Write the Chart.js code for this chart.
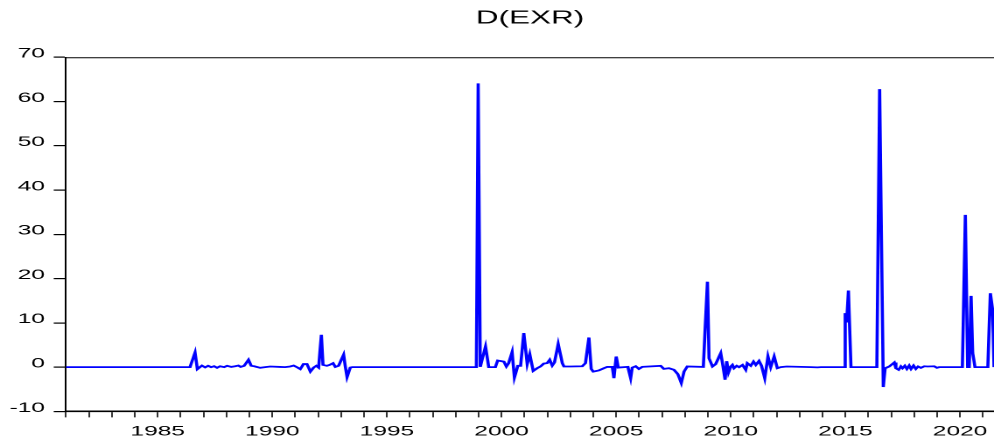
<!DOCTYPE html>
<html><head><meta charset="utf-8">
<script src="https://cdn.jsdelivr.net/npm/chart.js@4/dist/chart.umd.min.js"></script>
<style>html,body{margin:0;padding:0;background:#fff;overflow:hidden}</style>
</head><body>
<canvas id="c" width="568" height="441" style="display:block;width:994px;height:441px"></canvas>
<script>
const chartTitle = 'D(EXR)';
const obsDates = [
1981.00,1986.41,1986.63,1986.73,1986.93,1987.07,1987.20,1987.33,1987.46,1987.59,1987.72,1987.90,
1988.03,1988.21,1988.38,1988.52,1988.62,1988.77,1988.96,1989.08,1989.21,1989.47,1989.69,1989.91,
1990.34,1990.56,1990.78,1990.93,1991.09,1991.22,1991.36,1991.51,1991.66,1991.80,1991.92,1992.02,
1992.14,1992.21,1992.38,1992.50,1992.65,1992.75,1992.89,1993.11,1993.18,1993.26,1993.40,1993.49,
1998.90,1998.98,1999.07,1999.30,1999.44,1999.73,1999.83,2000.10,2000.21,2000.31,2000.46,2000.56,
2000.71,2000.83,2000.97,2001.12,2001.23,2001.38,2001.55,2001.70,2001.84,2001.99,2002.10,2002.21,
2002.31,2002.47,2002.65,2002.72,2003.01,2003.52,2003.66,2003.81,2003.91,2004.00,2004.24,2004.46,
2004.61,2004.83,2004.90,2005.00,2005.09,2005.51,2005.63,2005.70,2005.85,2005.99,2006.14,2006.94,
2007.08,2007.30,2007.52,2007.69,2007.84,2007.96,2008.10,2008.80,2008.98,2009.05,2009.20,2009.34,
2009.56,2009.66,2009.75,2009.82,2009.90,2010.00,2010.07,2010.14,2010.26,2010.36,2010.51,2010.65,
2010.72,2010.87,2010.99,2011.09,2011.23,2011.34,2011.48,2011.62,2011.74,2011.89,2012.03,2012.18,
2012.44,2013.49,2013.78,2013.93,2014.92,2014.99,2015.05,2015.13,2015.24,2016.37,2016.49,2016.65,
2016.73,2016.91,2017.13,2017.20,2017.32,2017.42,2017.49,2017.59,2017.68,2017.78,2017.86,2017.97,
2018.07,2018.17,2018.29,2018.44,2018.58,2018.87,2018.99,2019.09,2020.10,2020.23,2020.33,2020.40,
2020.48,2020.55,2020.65,2021.21,2021.32,2021.42,2021.48
];
const dExr = [
0,0,3.3,-0.45,0.35,-0.05,0.3,0,0.2,-0.15,0.2,0,
0.3,0.05,0.2,0.35,0.05,0.3,1.65,0.3,0.2,-0.15,0,0.15,
0.05,0,0.15,0.35,-0.05,-0.45,0.7,0.7,-1.0,-0.1,0.3,-0.1,
7.3,0.5,0.3,0.5,0.9,0.05,0.3,2.8,0.3,-2.25,-0.1,0,
0,64.1,0.05,4.65,0,0,1.5,1.25,0.15,0.9,3.4,-2.35,
0.3,0.3,7.7,0.7,2.9,-0.85,-0.25,0.15,0.8,0.9,1.65,0.35,
1.1,5.2,0.9,0.15,0.15,0.2,0.9,6.7,-0.4,-1.0,-0.75,-0.25,
0.05,0.05,-2.5,2.4,-0.1,0.05,-2.5,-0.1,0.2,-0.4,0.05,0.3,
-0.4,-0.25,-0.6,-1.6,-3.6,-1.0,0.15,0.05,19.3,2.0,0.15,0.7,
3.15,0.15,-2.85,1.35,-1.2,0.15,0.5,-0.25,0.3,0,0.5,-0.6,
0.9,0.3,1.25,0.5,1.4,0.3,-2.5,2.4,0,2.4,-0.25,0,
0.15,0,-0.05,0,0,12.2,10.1,17.3,0,0,62.8,-4.5,
-0.25,0.15,1.05,-0.25,-0.6,0.15,-0.25,0.3,-0.4,0.35,-0.4,0.35,
-0.4,0.15,-0.15,0.2,0.15,0.2,-0.15,0,0,34.4,0,0,
16.1,3.2,0,0,16.7,12.9,0
];
const yearLabels = [1985,1990,1995,2000,2005,2010,2015,2020];
const xRange = [1981, 2021.48];
const yRange = [-10, 70];
const yStep = 10;

const FONT = 'Liberation Sans, Arial, sans-serif';

const topFrame = {
  id: 'topFrame',
  afterDraw(chart) {
    const {ctx, chartArea: a} = chart;
    ctx.save();
    ctx.strokeStyle = '#000';
    ctx.lineWidth = 1;
    ctx.beginPath();
    ctx.moveTo(a.left, a.top + 0.5);
    ctx.lineTo(a.right, a.top + 0.5);
    ctx.stroke();
    ctx.restore();
  }
};

new Chart(document.getElementById('c'), {
  type: 'line',
  data: {
    datasets: [{
      data: obsDates.map((d, i) => ({x: d, y: dExr[i]})),
      borderColor: '#0000ff',
      borderWidth: 1.8,
      pointRadius: 0,
      tension: 0,
      fill: false
    }]
  },
  options: {
    responsive: false,
    devicePixelRatio: 2,
    animation: false,
    layout: {padding: 0},
    plugins: {
      legend: {display: false},
      tooltip: {enabled: false},
      title: {
        display: true,
        fullSize: false,
        text: chartTitle,
        color: '#000',
        font: {family: FONT, size: 18, weight: 'normal'},
        padding: {top: 7.5, bottom: 28.2}
      }
    },
    scales: {
      x: {
        type: 'linear',
        min: xRange[0],
        max: xRange[1],
        ticks: {
          stepSize: 1,
          maxTicksLimit: 200,
          autoSkip: false,
          includeBounds: false,
          maxRotation: 0,
          minRotation: 0,
          color: '#000',
          font: {family: FONT, size: 14},
          padding: 6,
          callback: v => {
            const r = Math.round(v);
            return (Math.abs(v - r) < 1e-6 && yearLabels.includes(r)) ? String(r) : '';
          }
        },
        grid: {display: true, drawOnChartArea: false, drawTicks: true, tickLength: 6, color: '#000', lineWidth: 0.8},
        border: {display: true, color: '#000', width: 1.6},
        afterFit: s => { s.height = 29.6; }
      },
      y: {
        min: yRange[0],
        max: yRange[1],
        ticks: {
          stepSize: yStep,
          color: '#000',
          font: {family: FONT, size: 14},
          padding: 5,
          labelOffset: -3.5
        },
        grid: {display: true, drawOnChartArea: false, drawTicks: true, tickLength: 7, color: '#000', lineWidth: 1.2},
        border: {display: true, color: '#000', width: 1},
        afterFit: s => { s.width = 37.7; }
      }
    }
  },
  plugins: [topFrame]
});
</script>
</body></html>
